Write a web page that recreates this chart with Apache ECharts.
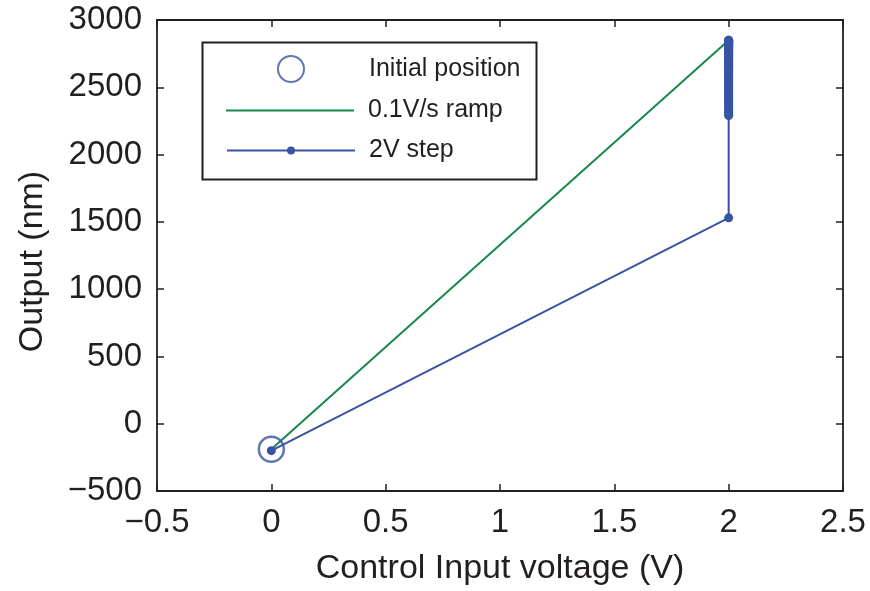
<!DOCTYPE html>
<html>
<head>
<meta charset="utf-8">
<script src="https://cdn.jsdelivr.net/npm/echarts@6/dist/echarts.min.js"></script>
<style>html,body{margin:0;padding:0;background:#fff}#c{width:870px;height:591px}</style>
</head>
<body>
<div id="c"></div>
<script>
// Data
const initX = [0];
const initY = [-190];
const rampX = [0, 2];
const rampY = [-190, 2850];
const stepY = [-200, 1530,
  2290, 2300, 2312, 2325, 2338, 2350, 2362, 2375, 2388, 2400, 2412, 2425, 2437, 2450,
  2462, 2474, 2486, 2498, 2510, 2521, 2532, 2543, 2554, 2565, 2576, 2586, 2596, 2606,
  2616, 2626, 2636, 2645, 2654, 2663, 2672, 2681, 2690, 2698, 2706, 2714, 2722, 2730,
  2737, 2744, 2751, 2758, 2765, 2771, 2777, 2783, 2789, 2795, 2800, 2805, 2810, 2815,
  2819, 2823, 2827, 2831, 2834, 2837, 2840, 2843, 2845, 2847, 2849, 2850];
const stepX = stepY.map((v, i) => (i === 0 ? 0 : 2));
const xTicks = { min: -0.5, max: 2.5, interval: 0.5 };
const yTicks = { min: -500, max: 3000, interval: 500 };
const names = ['Initial position', '0.1V/s ramp', '2V step'];

const BLUE = '#3953a4';
const GREEN = '#16894a';
const TXT = '#231f20';
const FONT = 'Liberation Sans, Arial, Helvetica, sans-serif';

const zip = (xs, ys) => xs.map((x, i) => [x, ys[i]]);
const minusFmt = v => String(v).replace('-', '\u2212');

const chart = echarts.init(document.getElementById('c'), null, { renderer: 'canvas' });

const axisCommon = {
  axisLine: { show: true, onZero: false, lineStyle: { color: TXT, width: 1.8 } },
  axisTick: { show: true, inside: true, length: 7, lineStyle: { color: TXT, width: 1.5 } },
  splitLine: { show: false }
};

const legendCommon = {
  orient: 'horizontal', padding: 0, itemGap: 0, itemWidth: 128,
  textStyle: { fontFamily: FONT, fontSize: 25, color: TXT, lineHeight: 24, padding: [0, 0, 0, 9] },
  selectedMode: false
};

chart.setOption({
  animation: false,
  backgroundColor: '#fff',
  grid: { left: 157, right: 27, top: 20, bottom: 99 },
  xAxis: [
    Object.assign({}, axisCommon, {
      type: 'value', position: 'bottom', min: xTicks.min, max: xTicks.max, interval: xTicks.interval,
      name: 'Control Input voltage (V)', nameLocation: 'middle', nameGap: 61,
      nameTextStyle: { fontFamily: FONT, fontSize: 34, color: TXT },
      axisLabel: { fontFamily: FONT, fontSize: 33, color: TXT, margin: 15, formatter: minusFmt }
    }),
    Object.assign({}, axisCommon, {
      type: 'value', position: 'top', min: xTicks.min, max: xTicks.max, interval: xTicks.interval,
      axisLabel: { show: false }
    })
  ],
  yAxis: [
    Object.assign({}, axisCommon, {
      type: 'value', position: 'left', min: yTicks.min, max: yTicks.max, interval: yTicks.interval,
      name: 'Output (nm)', nameLocation: 'middle', nameGap: 107,
      nameTextStyle: { fontFamily: FONT, fontSize: 34, color: TXT, padding: [0, 12, 0, 0] },
      axisLabel: { fontFamily: FONT, fontSize: 33, color: TXT, margin: 15, formatter: minusFmt }
    }),
    Object.assign({}, axisCommon, {
      type: 'value', position: 'right', min: yTicks.min, max: yTicks.max, interval: yTicks.interval,
      axisLabel: { show: false }
    })
  ],
  legend: [
    Object.assign({}, legendCommon, { data: [names[0]], left: 277, top: 55, itemHeight: 26 }),
    Object.assign({}, legendCommon, { data: [names[1]], left: 226, top: 98, itemHeight: 2, icon: 'rect' }),
    Object.assign({}, legendCommon, { data: [names[2]], left: 226, top: 138, itemHeight: 10 })
  ],
  graphic: [{
    type: 'rect', left: 200, top: 40, z: 10,
    shape: { width: 334, height: 137 },
    style: { fill: 'none', stroke: TXT, lineWidth: 2 }
  }],
  series: [
    {
      name: names[1], type: 'line', data: zip(rampX, rampY), symbol: 'none',
      lineStyle: { color: GREEN, width: 2 }, itemStyle: { color: GREEN }, z: 2
    },
    {
      name: names[2], type: 'line', data: zip(stepX, stepY), symbol: 'circle', symbolSize: 9,
      showSymbol: true, showAllSymbol: true,
      lineStyle: { color: BLUE, width: 2 }, itemStyle: { color: BLUE }, z: 3
    },
    {
      name: names[0], type: 'scatter', data: zip(initX, initY), symbol: 'circle', symbolSize: 25,
      itemStyle: { color: 'rgba(0,0,0,0)', borderColor: BLUE, borderWidth: 2.5 }, z: 4
    }
  ]
});
</script>
</body>
</html>
